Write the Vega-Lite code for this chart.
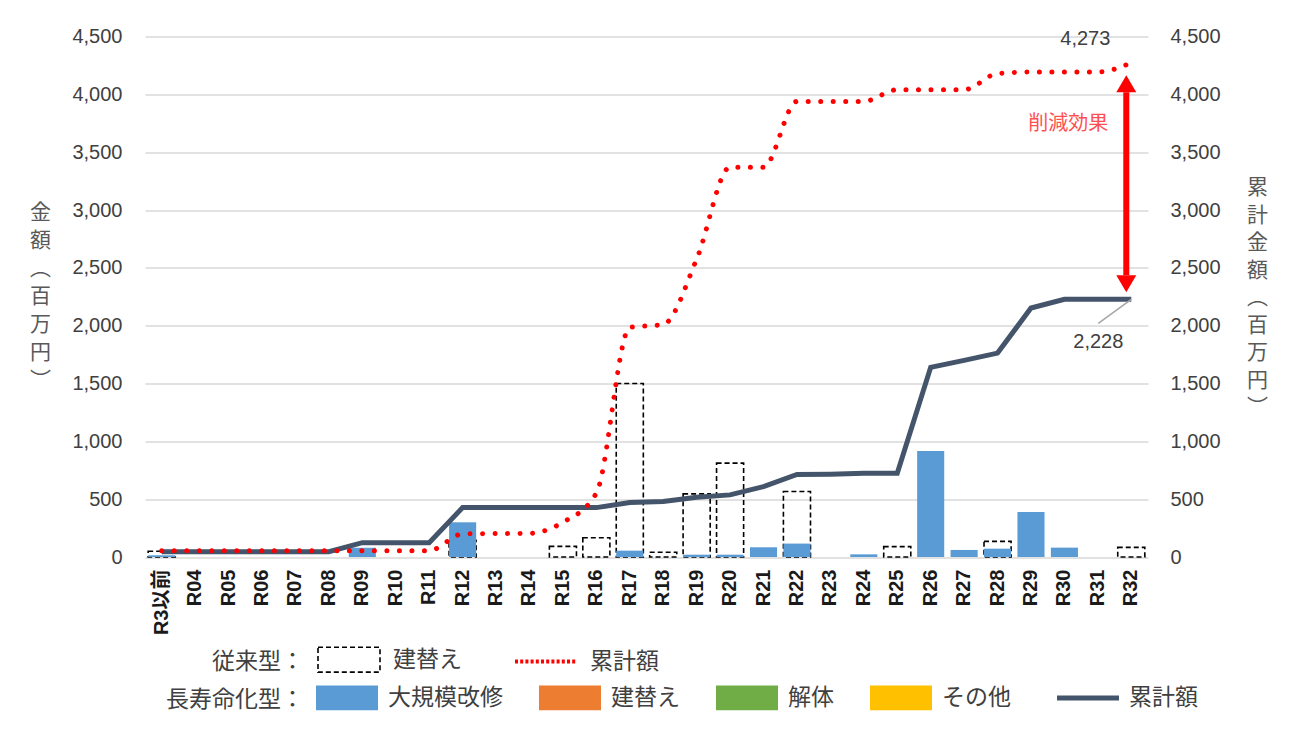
{
  "$schema": "https://vega.github.io/schema/vega-lite/v6.json",
  "width": 1003,
  "height": 520.5,
  "autosize": {"type": "none"},
  "padding": {"left": 145, "top": 36.5, "right": 150, "bottom": 178},
  "background": "#FFFFFF",
  "config": {
    "view": {"stroke": null},
    "font": "Noto Sans CJK JP",
    "axis": {"domain": false, "ticks": false},
    "legend": {"padding": 0}
  },
  "datasets": {
    "main": [
      {"year": "R3以前", "conv": 50, "kaishu": 15, "convCum": 55, "longCum": 46},
      {"year": "R04", "conv": 0, "kaishu": 0, "convCum": 55, "longCum": 46},
      {"year": "R05", "conv": 0, "kaishu": 0, "convCum": 55, "longCum": 46},
      {"year": "R06", "conv": 0, "kaishu": 0, "convCum": 55, "longCum": 46},
      {"year": "R07", "conv": 0, "kaishu": 0, "convCum": 55, "longCum": 46},
      {"year": "R08", "conv": 0, "kaishu": 0, "convCum": 55, "longCum": 46},
      {"year": "R09", "conv": 0, "kaishu": 80, "convCum": 55, "longCum": 124},
      {"year": "R10", "conv": 0, "kaishu": 0, "convCum": 55, "longCum": 124},
      {"year": "R11", "conv": 0, "kaishu": 0, "convCum": 55, "longCum": 124},
      {"year": "R12", "conv": 144, "kaishu": 300, "convCum": 199, "longCum": 427},
      {"year": "R13", "conv": 0, "kaishu": 0, "convCum": 203, "longCum": 427},
      {"year": "R14", "conv": 0, "kaishu": 0, "convCum": 205, "longCum": 427},
      {"year": "R15", "conv": 92, "kaishu": 0, "convCum": 300, "longCum": 427},
      {"year": "R16", "conv": 167, "kaishu": 0, "convCum": 552, "longCum": 427},
      {"year": "R17", "conv": 1500, "kaishu": 55, "convCum": 1985, "longCum": 471},
      {"year": "R18", "conv": 41, "kaishu": 0, "convCum": 2010, "longCum": 479},
      {"year": "R19", "conv": 546, "kaishu": 20, "convCum": 2575, "longCum": 517},
      {"year": "R20", "conv": 812, "kaishu": 20, "convCum": 3370, "longCum": 537},
      {"year": "R21", "conv": 0, "kaishu": 84, "convCum": 3370, "longCum": 609},
      {"year": "R22", "conv": 566, "kaishu": 116, "convCum": 3939, "longCum": 714},
      {"year": "R23", "conv": 0, "kaishu": 0, "convCum": 3939, "longCum": 716},
      {"year": "R24", "conv": 0, "kaishu": 23, "convCum": 3939, "longCum": 724},
      {"year": "R25", "conv": 90, "kaishu": 0, "convCum": 4040, "longCum": 724},
      {"year": "R26", "conv": 0, "kaishu": 916, "convCum": 4040, "longCum": 1640},
      {"year": "R27", "conv": 0, "kaishu": 61, "convCum": 4040, "longCum": 1700},
      {"year": "R28", "conv": 135, "kaishu": 72, "convCum": 4180, "longCum": 1763},
      {"year": "R29", "conv": 0, "kaishu": 390, "convCum": 4193, "longCum": 2153},
      {"year": "R30", "conv": 0, "kaishu": 81, "convCum": 4193, "longCum": 2228},
      {"year": "R31", "conv": 0, "kaishu": 0, "convCum": 4193, "longCum": 2228},
      {"year": "R32", "conv": 83, "kaishu": 0, "convCum": 4273, "longCum": 2228}
    ]
  },
  "data": {"name": "main"},
  "encoding": {
    "x": {
      "field": "year",
      "type": "nominal",
      "sort": null,
      "scale": {
        "domain": ["R3以前", "R04", "R05", "R06", "R07", "R08", "R09", "R10", "R11", "R12", "R13", "R14", "R15", "R16", "R17", "R18", "R19", "R20", "R21", "R22", "R23", "R24", "R25", "R26", "R27", "R28", "R29", "R30", "R31", "R32"],
        "paddingInner": 0.19,
        "paddingOuter": 0.095
      },
      "axis": {
        "title": null,
        "labelAngle": -90,
        "labelFont": "Liberation Sans, Noto Sans CJK JP",
        "labelFontSize": 20,
        "labelFontWeight": "bold",
        "labelColor": "#1A1A1A",
        "labelPadding": 12,
        "grid": false
      }
    }
  },
  "layer": [
    {
      "layer": [
        {
          "transform": [{"filter": "datum.conv > 0"}],
          "mark": {"type": "bar", "fill": "transparent", "strokeWidth": 1.6, "strokeDash": [5, 3]},
          "encoding": {
            "y": {
              "field": "conv",
              "type": "quantitative",
              "scale": {"domain": [0, 4500], "nice": false},
              "axis": {
                "orient": "left",
                "title": ["金", "額", "︵", "百", "万", "円", "︶"],
                "values": [0, 500, 1000, 1500, 2000, 2500, 3000, 3500, 4000, 4500],
                "format": ",d",
                "grid": true,
                "gridColor": "#D9D9D9",
                "gridWidth": 1.5,
                "labelFont": "Liberation Sans",
                "labelFontSize": 20,
                "labelColor": "#404040",
                "labelPadding": 23,
                "titleFont": "Noto Sans CJK JP",
                "titleFontSize": 21,
                "titleFontWeight": "normal",
                "titleColor": "#595959",
                "titleAngle": 0,
                "titleX": -105,
                "titleY": 176,
                "titleAlign": "center",
                "titleBaseline": "middle",
                "titleLineHeight": 28
              }
            },
            "stroke": {
              "datum": "建替え",
              "type": "nominal",
              "scale": {"domain": ["建替え", "累計額"], "range": ["#000000", "#FF0000"]},
              "legend": {
                "orient": "none",
                "legendX": 67,
                "legendY": 590,
                "direction": "horizontal",
                "title": "従来型：",
                "titleOrient": "left",
                "titleAnchor": "middle",
                "titleBaseline": "top",
                "titleFont": "Noto Sans CJK JP",
                "titleFontSize": 23,
                "titleFontWeight": "normal",
                "titleColor": "#404040",
                "titlePadding": 12,
                "labelFont": "Noto Sans CJK JP",
                "labelFontSize": 23,
                "labelColor": "#404040",
                "labelOffset": 11,
                "columnPadding": 45,
                "symbolSize": 3844,
                "symbolType": "M-1,-0.4H1V0.4H-1Z",
                "encode": {
                  "symbols": {
                    "update": {
                      "shape": {"signal": "(datum.value === '建替え' ? 'M-1,-0.4H1V0.4H-1Z' : 'stroke')"},
                      "fill": {"value": "transparent"},
                      "stroke": {"signal": "(datum.value === '建替え' ? '#000000' : '#FF0000')"},
                      "strokeWidth": {"signal": "(datum.value === '建替え' ? 1.6 : 4)"},
                      "strokeDash": {"signal": "(datum.value === '建替え' ? [5, 3] : [3, 2.2])"},
                      "opacity": {"value": 1}
                    }
                  }
                }
              }
            }
          }
        },
        {
          "transform": [{"filter": "datum.kaishu > 0"}],
          "mark": {"type": "bar", "strokeWidth": 0},
          "encoding": {
            "y": {"field": "kaishu", "type": "quantitative"},
            "fill": {
              "datum": "大規模改修",
              "type": "nominal",
              "scale": {
                "domain": ["大規模改修", "建替え", "解体", "その他", "累計額"],
                "range": ["#5B9BD5", "#ED7D31", "#70AD47", "#FFC000", "#44546A"]
              },
              "legend": {
                "orient": "none",
                "legendX": 21,
                "legendY": 630,
                "direction": "horizontal",
                "title": "長寿命化型：",
                "titleOrient": "left",
                "titleAnchor": "middle",
                "titleBaseline": "top",
                "titleFont": "Noto Sans CJK JP",
                "titleFontSize": 23,
                "titleFontWeight": "normal",
                "titleColor": "#404040",
                "titlePadding": 12,
                "labelFont": "Noto Sans CJK JP",
                "labelFontSize": 23,
                "labelColor": "#404040",
                "labelOffset": 10,
                "columnPadding": 36,
                "symbolSize": 3844,
                "symbolType": "M-1,-0.4H1V0.4H-1Z",
                "encode": {
                  "symbols": {
                    "update": {
                      "shape": {"signal": "(datum.value === '累計額' ? 'stroke' : 'M-1,-0.4H1V0.4H-1Z')"},
                      "stroke": {"signal": "(datum.value === '累計額' ? '#44546A' : 'transparent')"},
                      "strokeWidth": {"signal": "(datum.value === '累計額' ? 5 : 0)"},
                      "opacity": {"value": 1}
                    }
                  }
                }
              }
            }
          }
        }
      ]
    },
    {
      "layer": [
        {
          "mark": {"type": "line", "color": "#44546A", "strokeWidth": 5},
          "encoding": {
            "y": {
              "field": "longCum",
              "type": "quantitative",
              "scale": {"domain": [0, 4500], "nice": false},
              "axis": {
                "orient": "right",
                "title": ["累", "計", "金", "額", "︵", "百", "万", "円", "︶"],
                "values": [0, 500, 1000, 1500, 2000, 2500, 3000, 3500, 4000, 4500],
                "format": ",d",
                "grid": false,
                "labelFont": "Liberation Sans",
                "labelFontSize": 20,
                "labelColor": "#404040",
                "labelPadding": 22,
                "titleFont": "Noto Sans CJK JP",
                "titleFontSize": 21,
                "titleFontWeight": "normal",
                "titleColor": "#595959",
                "titleAngle": 0,
                "titleX": 109,
                "titleY": 151,
                "titleAlign": "center",
                "titleBaseline": "middle",
                "titleLineHeight": 27.5
              }
            }
          }
        },
        {
          "mark": {"type": "line", "interpolate": "monotone", "strokeWidth": 5, "strokeCap": "round", "strokeDash": [0.01, 12.5]},
          "encoding": {
            "y": {"field": "convCum", "type": "quantitative"},
            "stroke": {
              "datum": "累計額",
              "type": "nominal",
              "legend": {
                "orient": "none",
                "legendX": 67,
                "legendY": 590,
                "direction": "horizontal",
                "title": "従来型：",
                "titleOrient": "left",
                "titleAnchor": "middle",
                "titleBaseline": "top",
                "titleFont": "Noto Sans CJK JP",
                "titleFontSize": 23,
                "titleFontWeight": "normal",
                "titleColor": "#404040",
                "titlePadding": 12,
                "labelFont": "Noto Sans CJK JP",
                "labelFontSize": 23,
                "labelColor": "#404040",
                "labelOffset": 11,
                "columnPadding": 45,
                "symbolSize": 3844,
                "symbolType": "M-1,-0.4H1V0.4H-1Z",
                "encode": {
                  "symbols": {
                    "update": {
                      "shape": {"signal": "(datum.value === '建替え' ? 'M-1,-0.4H1V0.4H-1Z' : 'stroke')"},
                      "fill": {"value": "transparent"},
                      "stroke": {"signal": "(datum.value === '建替え' ? '#000000' : '#FF0000')"},
                      "strokeWidth": {"signal": "(datum.value === '建替え' ? 1.6 : 4)"},
                      "strokeDash": {"signal": "(datum.value === '建替え' ? [5, 3] : [3, 2.2])"},
                      "opacity": {"value": 1}
                    }
                  }
                }
              }
            }
          }
        },
        {
          "data": {"values": [{"year": "R32", "from": 4017, "to": 2436}]},
          "mark": {"type": "rule", "color": "#FF0000", "strokeWidth": 6, "xOffset": -5},
          "encoding": {
            "y": {"field": "from", "type": "quantitative"},
            "y2": {"field": "to"}
          }
        },
        {
          "data": {"values": [{"year": "R32", "tip": 4164, "dir": "up"}, {"year": "R32", "tip": 2289, "dir": "down"}]},
          "mark": {"type": "point", "filled": true, "color": "#FF0000", "opacity": 1, "size": 400, "xOffset": -5},
          "encoding": {
            "y": {"field": "tip", "type": "quantitative"},
            "shape": {
              "field": "dir",
              "type": "nominal",
              "scale": {"domain": ["up", "down"], "range": ["M0,0L1,1.7H-1Z", "M0,0L1,-1.7H-1Z"]},
              "legend": null
            }
          }
        },
        {
          "data": {"values": [{"year": "R32", "value": 2228}]},
          "mark": {"type": "rule", "color": "#A6A6A6", "strokeWidth": 1.5, "x2Offset": -33, "y2Offset": 24},
          "encoding": {
            "y": {"field": "value", "type": "quantitative"},
            "x2": {"field": "year"},
            "y2": {"field": "value"}
          }
        },
        {
          "data": {"values": [{"year": "R32", "value": 4273, "label": "4,273"}]},
          "mark": {"type": "text", "font": "Liberation Sans", "fontSize": 20, "color": "#404040", "dx": -46, "dy": -24, "align": "center", "baseline": "middle"},
          "encoding": {
            "y": {"field": "value", "type": "quantitative"},
            "text": {"field": "label"}
          }
        },
        {
          "data": {"values": [{"year": "R32", "value": 2228, "label": "2,228"}]},
          "mark": {"type": "text", "font": "Liberation Sans", "fontSize": 20, "color": "#404040", "dx": -33, "dy": 43, "align": "center", "baseline": "middle"},
          "encoding": {
            "y": {"field": "value", "type": "quantitative"},
            "text": {"field": "label"}
          }
        },
        {
          "data": {"values": [{"year": "R32", "value": 3745, "label": "削減効果"}]},
          "mark": {"type": "text", "font": "Noto Sans CJK JP", "fontSize": 20, "color": "#FF5050", "dx": -63, "dy": 0, "align": "center", "baseline": "middle"},
          "encoding": {
            "y": {"field": "value", "type": "quantitative"},
            "text": {"field": "label"}
          }
        }
      ]
    }
  ],
  "resolve": {"scale": {"y": "independent"}}
}
